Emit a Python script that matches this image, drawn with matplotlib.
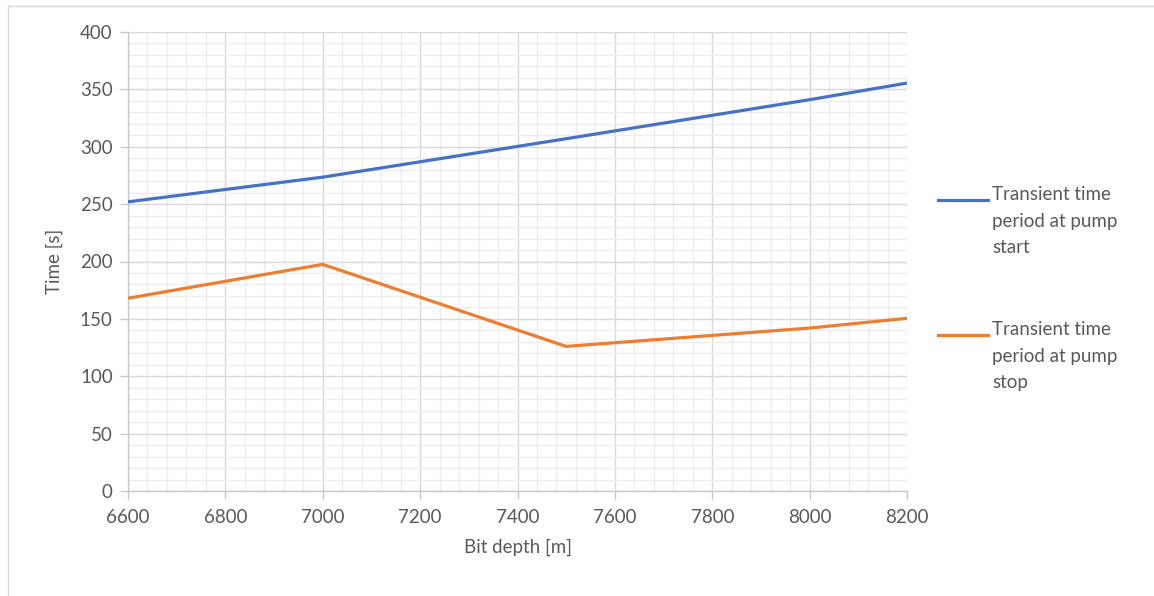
import matplotlib
matplotlib.use('Agg')
import matplotlib.pyplot as plt
from matplotlib.lines import Line2D
from matplotlib.ticker import MultipleLocator

plt.rcParams['font.family'] = ['Lato', 'DejaVu Sans']

bit_depth = [6600, 7000, 7500, 8000, 8200]
pump_start = [252, 273.5, 307, 341, 355.5]
pump_stop = [168, 197.5, 126, 142, 150.5]
start_label = 'Transient time\nperiod at pump\nstart'
stop_label = 'Transient time\nperiod at pump\nstop'

text_grey = '#595959'
blue = '#4472C4'
orange = '#ED7D31'
fs = 13.5

fig = plt.figure(figsize=(11.54, 5.96), dpi=100)
ax = fig.add_axes([128 / 1154, 105 / 596, 779 / 1154, 459 / 596])

ax.plot(bit_depth, pump_start, color=blue, lw=2.3, solid_capstyle='butt', zorder=3)
ax.plot(bit_depth, pump_stop, color=orange, lw=2.3, solid_capstyle='butt', zorder=3)

ax.set_xlim(6600, 8200)
ax.set_ylim(0, 400)
ax.xaxis.set_major_locator(MultipleLocator(200))
ax.xaxis.set_minor_locator(MultipleLocator(40))
ax.yaxis.set_major_locator(MultipleLocator(50))
ax.yaxis.set_minor_locator(MultipleLocator(10))

ax.grid(which='minor', color='#ededed', lw=1.0, zorder=0)
ax.grid(which='major', color='#d9d9d9', lw=1.0, zorder=1)
ax.set_axisbelow(True)

for side in ['top', 'right']:
    ax.spines[side].set_visible(False)
for side in ['left', 'bottom']:
    ax.spines[side].set_color('#c8c8c8')
    ax.spines[side].set_linewidth(1.0)

ax.tick_params(which='major', length=6, width=1.0, color='#c8c8c8',
               labelsize=fs, labelcolor=text_grey, pad=5)
ax.tick_params(which='minor', length=0)
ax.tick_params(axis='x', pad=7)

ax.set_xlabel('Bit depth [m]', fontsize=fs, color=text_grey, labelpad=9)
ax.set_ylabel('Time [s]', fontsize=fs, color=text_grey, labelpad=12)

# legend drawn by hand so each key sits on the first text line
for y_px, colour, label in [(200, blue, start_label), (335, orange, stop_label)]:
    y = 1 - y_px / 596
    fig.add_artist(Line2D([938 / 1154, 988 / 1154], [y, y], color=colour, lw=2.3,
                          transform=fig.transFigure))
    fig.text(992 / 1154, y + 14 / 596, label, fontsize=fs, color=text_grey,
             va='top', ha='left', linespacing=1.68)

# outer chart frame (left and top edges)
fig.add_artist(Line2D([8 / 1154, 8 / 1154], [0, 1 - 6 / 596], color='#d9d9d9', lw=1.0,
                      transform=fig.transFigure))
fig.add_artist(Line2D([8 / 1154, 1], [1 - 6 / 596, 1 - 6 / 596], color='#d9d9d9', lw=1.0,
                      transform=fig.transFigure))

fig.savefig('out.png', dpi=100, facecolor='white')
